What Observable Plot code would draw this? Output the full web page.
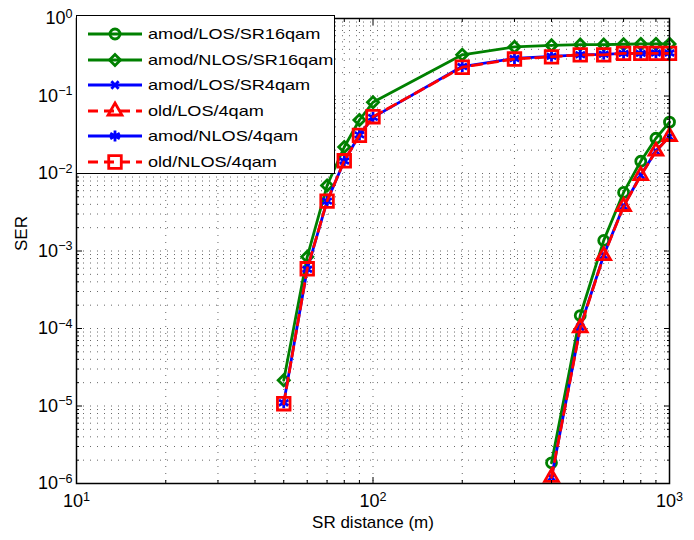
<!DOCTYPE html>
<html><head><meta charset="utf-8">
<script src="https://cdn.jsdelivr.net/npm/d3@7"></script>
<script src="https://cdn.jsdelivr.net/npm/@observablehq/plot@0.6"></script>
<style>
html,body{margin:0;padding:0;background:#fff;}
#wrap{position:relative;width:694px;height:540px;font-family:"Liberation Sans",Arial,Helvetica,sans-serif;}
#legend{position:absolute;left:76px;top:15px;width:259px;height:159px;border:1.3px solid #000;background:#fff;box-sizing:border-box;}
.row{position:absolute;left:0;height:26px;width:258px;}
.row svg{position:absolute;left:8px;top:0;}
.row span{position:absolute;left:71px;top:3px;font-size:14.5px;line-height:20px;white-space:nowrap;transform:scaleX(1.25);transform-origin:0 50%;color:#000;}
</style></head>
<body><div id="wrap"></div>
<script>
// ---- data ----
const distNLOS = [50, 60, 70, 80, 90, 100, 200, 300, 400, 500, 600, 700, 800, 900, 1000];
const distLOS = [400, 500, 600, 700, 800, 900, 1000];
const serAmodLosSR16qam = [1.85e-6, 1.47e-4, 1.37e-3, 5.7e-3, 1.44e-2, 2.85e-2, 4.6e-2];
const serAmodNlosSR16qam = [2.15e-5, 8.4e-4, 7.0e-3, 2.2e-2, 4.9e-2, 8.3e-2, 0.34, 0.43, 0.45, 0.46, 0.46, 0.465, 0.47, 0.47, 0.47];
const serAmodLosSR4qam = [1.2e-6, 1.05e-4, 8.8e-4, 3.8e-3, 9.5e-3, 1.95e-2, 3.0e-2];
const serOldLos4qam = [1.2e-6, 1.02e-4, 8.7e-4, 3.75e-3, 9.4e-3, 1.94e-2, 3.0e-2];
const serAmodNlos4qam = [1.1e-5, 5.8e-4, 4.4e-3, 1.45e-2, 3.15e-2, 5.3e-2, 0.24, 0.305, 0.325, 0.34, 0.345, 0.355, 0.355, 0.358, 0.358];
const serOldNlos4qam = [1.07e-5, 5.9e-4, 4.4e-3, 1.46e-2, 3.1e-2, 5.4e-2, 0.235, 0.30, 0.32, 0.34, 0.34, 0.355, 0.355, 0.355, 0.355];
const seriesNames = ["amod/LOS/SR16qam", "amod/NLOS/SR16qam", "amod/LOS/SR4qam", "old/LOS/4qam", "amod/NLOS/4qam", "old/NLOS/4qam"];
const xTickValues = [10, 100, 1000];
const yTickValues = [1e-6, 1e-5, 1e-4, 1e-3, 1e-2, 1e-1, 1];
const xTitle = "SR distance (m)";
const yTitle = "SER";

// ---- styles ----
const GREEN = "#008000", BLUE = "#0000ff", RED = "#ff0000";
const styles = [
  {color: GREEN, dash: null, symbol: "circle", r: 5},
  {color: GREEN, dash: null, symbol: "diamond2", r: 5},
  {color: BLUE, dash: null, symbol: "times", r: 3.4},
  {color: RED, dash: "10,6", symbol: "triangle2", r: 6.6},
  {color: BLUE, dash: null, symbol: "asterisk", r: 5.2},
  {color: RED, dash: "10,6", symbol: "square2", r: 8}
];
const xsets = [distLOS, distNLOS, distLOS, distLOS, distNLOS, distNLOS];
const ysets = [serAmodLosSR16qam, serAmodNlosSR16qam, serAmodLosSR4qam, serOldLos4qam, serAmodNlos4qam, serOldNlos4qam];
const series = seriesNames.map((name, i) => ({
  name, ...styles[i],
  rows: xsets[i].map((x, j) => ({x, y: ysets[i][j]}))
}));

// minor ticks
const xMinor = [], yMinor = [];
for (let k = 0; k < xTickValues.length - 1; k++) for (let m = 2; m <= 9; m++) xMinor.push(xTickValues[k] * m);
for (let k = 0; k < yTickValues.length - 1; k++) for (let m = 2; m <= 9; m++) yMinor.push(yTickValues[k] * m);
const xGrid = xMinor.concat(xTickValues.slice(1, -1));
const yGrid = yMinor.concat(yTickValues.slice(1, -1));
const sup = v => "10^" + Math.round(Math.log10(v));

const LW = 2.8;
const marks = [
  Plot.ruleX(xGrid, {stroke: "#000", strokeWidth: 1, strokeDasharray: "1,6", strokeOpacity: 0.6}),
  Plot.ruleY(yGrid, {stroke: "#000", strokeWidth: 1, strokeDasharray: "1,6", strokeOpacity: 0.6})
];
for (const s of series) {
  marks.push(Plot.line(s.rows, {x: "x", y: "y", stroke: s.color, strokeWidth: LW, strokeDasharray: s.dash || undefined}));
  marks.push(Plot.dot(s.rows, {x: "x", y: "y", symbol: () => s.symbol, r: s.r, stroke: s.color, strokeWidth: LW, fill: "none"}));
}
// inward ticks on all sides
for (const anchor of ["bottom", "top"]) {
  marks.push(Plot.axisX({anchor, ticks: xTickValues, tickSize: -6, tickFormat: () => "", label: null, strokeWidth: 1}));
  marks.push(Plot.axisX({anchor, ticks: xMinor, tickSize: -3, tickFormat: () => "", label: null, strokeWidth: 1}));
}
for (const anchor of ["left", "right"]) {
  marks.push(Plot.axisY({anchor, ticks: yTickValues, tickSize: -6, tickFormat: () => "", label: null, strokeWidth: 1}));
  marks.push(Plot.axisY({anchor, ticks: yMinor, tickSize: -3, tickFormat: () => "", label: null, strokeWidth: 1}));
}
marks.push(Plot.axisX({anchor: "bottom", ticks: xTickValues, tickSize: 0, tickPadding: 11, tickFormat: sup, label: null}));
marks.push(Plot.axisY({anchor: "left", ticks: yTickValues, tickSize: 0, tickPadding: 4, tickFormat: sup, label: null}));
marks.push(Plot.frame({stroke: "#000", strokeWidth: 1.5}));
marks.push(Plot.text([xTitle], {frameAnchor: "bottom", dy: 44, fontSize: 17, fill: "#000"}));
marks.push(Plot.text([yTitle], {frameAnchor: "left", dx: -55, rotate: -90, fontSize: 17, fill: "#000"}));

const chart = Plot.plot({
  width: 694, height: 540,
  marginLeft: 76, marginRight: 25, marginTop: 18, marginBottom: 57,
  x: {type: "log", domain: [10, 1000], axis: null},
  y: {type: "log", domain: [1e-6, 1], axis: null},
  style: {fontFamily: "'Liberation Sans', Arial, Helvetica, sans-serif", fontSize: "18px", color: "#000", background: "#fff", overflow: "visible"},
  marks
});

// superscripts for tick labels
d3.select(chart).selectAll("text").each(function () {
  const t = this.textContent;
  const m = /^10\^(-?\d+)$/.exec(t);
  if (!m) return;
  const el = d3.select(this);
  el.text("10");
  el.append("tspan").attr("dy", "-0.5em").attr("font-size", "0.7em").text(m[1].replace("-", "\u2212"));
});

const wrap = document.getElementById("wrap");
wrap.appendChild(chart);

// legend (HTML overlay)
const legend = document.createElement("div");
legend.id = "legend";
const symMap = {circle: d3.symbolCircle, diamond2: d3.symbolDiamond2, times: d3.symbolTimes, triangle2: d3.symbolTriangle2, asterisk: d3.symbolAsterisk, square2: d3.symbolSquare2};
series.forEach((s, i) => {
  const row = document.createElement("div");
  row.className = "row";
  row.style.top = (5 + i * 25.5) + "px";
  const svg = d3.create("svg").attr("width", 60).attr("height", 26);
  svg.append("line").attr("x1", 3).attr("x2", 57).attr("y1", 13).attr("y2", 13)
    .attr("stroke", s.color).attr("stroke-width", LW).attr("stroke-dasharray", s.dash);
  svg.append("path").attr("transform", "translate(30,13)")
    .attr("d", d3.symbol(symMap[s.symbol], Math.PI * s.r * s.r)())
    .attr("fill", "none").attr("stroke", s.color).attr("stroke-width", LW);
  row.appendChild(svg.node());
  const span = document.createElement("span");
  span.textContent = s.name;
  row.appendChild(span);
  legend.appendChild(row);
});
wrap.appendChild(legend);
</script>
</body></html>
